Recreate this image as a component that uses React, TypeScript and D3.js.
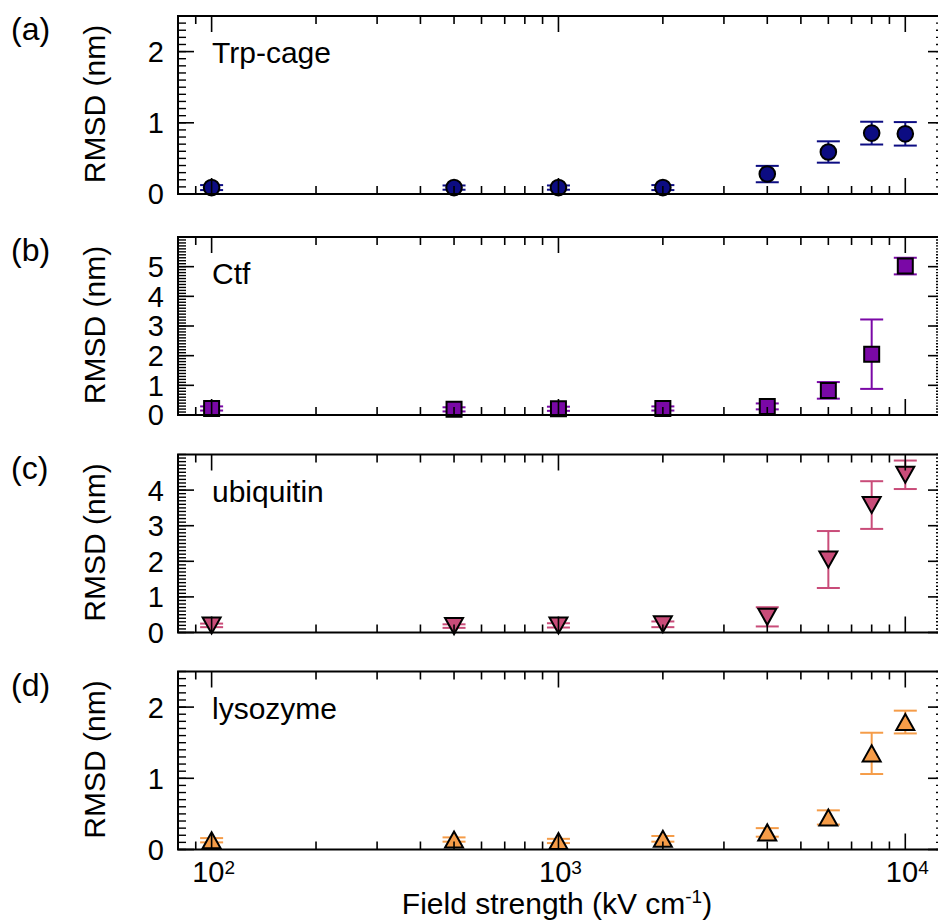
import React from "react";
import * as d3 from "d3";

const fields = [100, 500, 1000, 2000, 4000, 6000, 8000, 10000];

const trpMean = [0.09, 0.09, 0.09, 0.09, 0.28, 0.59, 0.855, 0.845];
const trpErr = [0.035, 0.03, 0.03, 0.035, 0.115, 0.15, 0.16, 0.165];

const ctfMean = [0.22, 0.19, 0.21, 0.22, 0.29, 0.83, 2.05, 5.02];
const ctfErr = [0.07, 0.07, 0.07, 0.07, 0.1, 0.28, 1.17, 0.28];

const ubqMean = [0.2, 0.18, 0.2, 0.23, 0.44, 2.05, 3.58, 4.43];
const ubqErr = [0.05, 0.05, 0.06, 0.08, 0.27, 0.8, 0.67, 0.4];

const lysMean = [0.13, 0.14, 0.12, 0.15, 0.24, 0.45, 1.35, 1.79];
const lysErr = [0.03, 0.03, 0.03, 0.04, 0.06, 0.1, 0.29, 0.16];

const panelLetters = ["(a)", "(b)", "(c)", "(d)"];
const proteinNames = ["Trp-cage", "Ctf", "ubiquitin", "lysozyme"];
const yMaxes = [2.5, 6, 5, 2.5];
const yTickLists = [[0, 1, 2], [0, 1, 2, 3, 4, 5], [0, 1, 2, 3, 4], [0, 1, 2]];
const xTickExps = [2, 3, 4];
const xDomain = [80, 12930];

const colors = ["#0c0c82", "#7a08a6", "#c94c79", "#f59c48"];
const markers = ["circle", "square", "down", "up"];

const means = [trpMean, ctfMean, ubqMean, lysMean];
const errs = [trpErr, ctfErr, ubqErr, lysErr];

const W = 938;
const H = 923;
const LEFT = 178;
const RIGHT = 944;
const TOPS = [16, 237, 454.5, 671.5];
const PH = 178;
const FONT = "'Liberation Sans', Arial, Helvetica, sans-serif";

function markerPath(kind: string, cx: number, cy: number): string {
  if (kind === "square") {
    const s = 7.5;
    return `M${cx - s},${cy - s}H${cx + s}V${cy + s}H${cx - s}Z`;
  }
  if (kind === "down") {
    const w = 9, h = 8;
    return `M${cx - w},${cy - h}H${cx + w}L${cx},${cy + h}Z`;
  }
  if (kind === "up") {
    const w = 9, h = 8;
    return `M${cx - w},${cy + h}H${cx + w}L${cx},${cy - h}Z`;
  }
  return "";
}

function Panel({ idx }: { idx: number }) {
  const top = TOPS[idx];
  const bottom = top + PH;
  const x = d3.scaleLog().domain(xDomain).range([LEFT, RIGHT]);
  const y = d3.scaleLinear().domain([0, yMaxes[idx]]).range([bottom, top]);
  const color = colors[idx];
  const kind = markers[idx];
  const m = means[idx];
  const e = errs[idx];

  const xMinor: number[] = [];
  for (let p = 1; p <= 4; p++) {
    for (let k = 2; k <= 9; k++) {
      const v = k * Math.pow(10, p);
      if (v >= xDomain[0] && v <= xDomain[1]) xMinor.push(v);
    }
  }
  const xMajor = xTickExps.map((p) => Math.pow(10, p));
  const yMinor = d3.range(0, yMaxes[idx] + 1e-9, 0.1).map((v) => Math.round(v * 10) / 10);
  const yMajor = yTickLists[idx];

  const MAJ = 16;
  const MIN = 8;
  const tickStyle = { stroke: "#000", strokeWidth: 1.6 };
  const cap = 11.5;

  return (
    <g>
      {fields.map((f, i) => {
        const cx = x(f);
        const y1 = y(m[i] + e[i]);
        const y0 = y(m[i] - e[i]);
        return (
          <g key={"e" + i} stroke={color} strokeWidth={2}>
            <line x1={cx} x2={cx} y1={y1} y2={y0} />
            <line x1={cx - cap} x2={cx + cap} y1={y1} y2={y1} />
            <line x1={cx - cap} x2={cx + cap} y1={y0} y2={y0} />
          </g>
        );
      })}
      {fields.map((f, i) => {
        const cx = x(f);
        const cy = y(m[i]);
        if (kind === "circle") {
          return <circle key={"m" + i} cx={cx} cy={cy} r={7.8} fill={color} stroke="#000" strokeWidth={2} />;
        }
        return (
          <path key={"m" + i} d={markerPath(kind, cx, cy)} fill={color} stroke="#000" strokeWidth={2} strokeLinejoin="miter" />
        );
      })}
      {xMinor.map((v) => (
        <g key={"xm" + v} {...tickStyle}>
          <line x1={x(v)} x2={x(v)} y1={bottom} y2={bottom - MIN} />
          <line x1={x(v)} x2={x(v)} y1={top} y2={top + MIN} />
        </g>
      ))}
      {xMajor.map((v) => (
        <g key={"xM" + v} {...tickStyle}>
          <line x1={x(v)} x2={x(v)} y1={bottom} y2={bottom - MAJ} />
          <line x1={x(v)} x2={x(v)} y1={top} y2={top + MAJ} />
        </g>
      ))}
      {yMinor.map((v) => (
        <g key={"ym" + v} {...tickStyle} strokeWidth={1.4}>
          <line x1={LEFT} x2={LEFT + MIN} y1={y(v)} y2={y(v)} />
          <line x1={RIGHT} x2={RIGHT - MIN} y1={y(v)} y2={y(v)} />
        </g>
      ))}
      {yMajor.map((v) => (
        <g key={"yM" + v} {...tickStyle}>
          <line x1={LEFT} x2={LEFT + MAJ} y1={y(v)} y2={y(v)} />
          <line x1={RIGHT} x2={RIGHT - MAJ} y1={y(v)} y2={y(v)} />
        </g>
      ))}
      <rect x={LEFT} y={top} width={RIGHT - LEFT} height={PH} fill="none" stroke="#000" strokeWidth={2} />
      {yMajor.map((v) => (
        <text key={"yl" + v} x={164} y={y(v)} dy="0.36em" textAnchor="end" fontSize={29} fontFamily={FONT} fill="#000">
          {v}
        </text>
      ))}
      <text
        transform={`translate(105,${(top + bottom) / 2 - 1}) rotate(-90)`}
        textAnchor="middle"
        fontSize={30}
        fontFamily={FONT}
        fill="#000"
      >
        RMSD (nm)
      </text>
      <text x={11} y={top + 24} fontSize={32} fontFamily={FONT} fill="#000">
        {panelLetters[idx]}
      </text>
      <text x={212} y={top + 47} fontSize={30} fontFamily={FONT} fill="#000">
        {proteinNames[idx]}
      </text>
    </g>
  );
}

export default function App() {
  const x = d3.scaleLog().domain(xDomain).range([LEFT, RIGHT]);
  const lastBottom = TOPS[3] + PH;
  return (
    <svg
      width={W}
      height={H}
      viewBox={`0 0 ${W} ${H}`}
      style={{ position: "absolute", left: 0, top: 0, background: "#fff", display: "block" }}
    >
      <rect x={0} y={0} width={W} height={H} fill="#fff" />
      {[0, 1, 2, 3].map((i) => (
        <Panel key={i} idx={i} />
      ))}
      {xTickExps.map((p) => (
        <text key={"xt" + p} x={x(Math.pow(10, p)) + 2} y={lastBottom + 32} textAnchor="middle" fontSize={29} fontFamily={FONT} fill="#000">
          10
          <tspan fontSize={19} dy={-8}>
            {p}
          </tspan>
        </text>
      ))}
      <text x={(LEFT + 936) / 2} y={914} textAnchor="middle" fontSize={30} fontFamily={FONT} fill="#000">
        Field strength (kV cm
        <tspan fontSize={19} dy={-11}>
          -1
        </tspan>
        <tspan dy={11}>)</tspan>
      </text>
    </svg>
  );
}
